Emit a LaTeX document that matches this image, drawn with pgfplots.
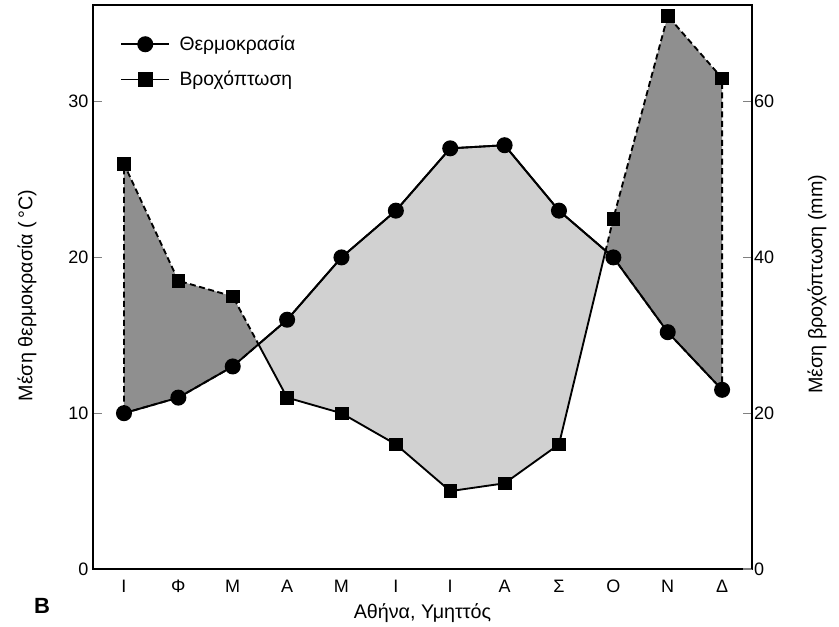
\documentclass[border=0pt]{standalone}
\usepackage{fontspec}
\setmainfont{Liberation Sans}
\usepackage{pgfplots}
\pgfplotsset{compat=1.18}
\usepgfplotslibrary{fillbetween}
\usepackage{pgfplotstable}

\pgfplotstableread{
m T R
0 10 52
1 11 37
2 13 35
3 16 22
4 20 20
5 23 16
6 27 10
7 27.2 11
8 23 16
9 20 45
10 15.2 71
11 11.5 63
}\climate

\begin{document}
\begin{tikzpicture}[font=\fontsize{13.5}{16}\selectfont]
\begin{axis}[
  scale only axis, width=494.25pt, height=423pt,
  at={(0,0)}, anchor=south west,
  xmin=-0.57, xmax=11.55, ymin=0, ymax=36.2,
  xtick={0,...,11}, xticklabels={Ι,Φ,Μ,Α,Μ,Ι,Ι,Α,Σ,Ο,Ν,Δ},
  xtick style={draw=none},
  xticklabel style={yshift=-5pt},
  ytick={0,10,20,30}, ytick pos=left, tick align=inside,
  major tick length=7pt,
  ytick style={line width=1pt},
  axis line style={line width=1.3pt},
  /pgf/number format/assume math mode=true,
  ylabel={Μέση θερμοκρασία (\,°C)},
  ylabel style={at={(axis description cs:-0.1,0.485)}, anchor=center, font=\fontsize{14.8}{17}\selectfont},
  xlabel={Αθήνα, Υμηττός},
  xlabel style={at={(axis description cs:0.5,-0.078)}, anchor=center, font=\fontsize{14.8}{17}\selectfont},
  legend style={draw=none, fill=none, at={(0.035,0.955)}, anchor=north west,
    row sep=10pt, font=\fontsize{14.5}{16}\selectfont,
    /tikz/every odd column/.style={column sep=5pt}},
  legend cell align=left,
  legend image code/.code={\draw[mark repeat=2, mark phase=2, #1] plot coordinates {(0pt,0pt) (18pt,0pt) (36pt,0pt)};},
]
\addlegendimage{black, line width=1.4pt, mark=*, mark size=5.3pt}
\addlegendimage{black, line width=1.4pt, mark=square*, mark size=4.8pt}
\legend{Θερμοκρασία, Βροχόπτωση}

\addplot[name path=T, draw=none, forget plot] table[x=m, y=T]{\climate};
\addplot[name path=R, draw=none, forget plot] table[x=m, y expr=\thisrow{R}/2]{\climate};
\addplot[forget plot] fill between[of=T and R, split,
  every even segment/.style={fill=black!44, draw=black, line width=1.4pt, dash pattern=on 4.5pt off 2.6pt},
  every odd segment/.style={fill=black!18, draw=black, line width=1.4pt, solid}];
\addplot[black, line width=1.4pt, mark=*, mark size=5.3pt, forget plot] table[x=m, y=T]{\climate};
\addplot[black, only marks, mark=square*, mark size=4.8pt, forget plot] table[x=m, y expr=\thisrow{R}/2]{\climate};
\end{axis}
\begin{axis}[
  scale only axis, width=494.25pt, height=423pt,
  at={(0,0)}, anchor=south west,
  xmin=-0.57, xmax=11.55, ymin=0, ymax=72.4,
  axis x line=none, axis y line*=right,
  ytick={0,20,40,60}, tick align=inside, major tick length=7pt,
  ytick style={line width=1pt},
  yticklabel style={xshift=-2pt},
  axis line style={line width=1.3pt},
  /pgf/number format/assume math mode=true,
  ylabel={Μέση βροχόπτωση (mm)},
  ylabel style={at={(axis description cs:1.0986,0.505)}, anchor=center, font=\fontsize{14.8}{17}\selectfont},
]
\addplot[draw=none, forget plot] coordinates {(0,0) (11,72)};
\end{axis}
\node[font=\fontsize{16.5}{18}\selectfont\bfseries] at (-38.25pt,-27.4pt) {B};
\path (-69.75pt,-42.75pt) rectangle (559.5pt,426.75pt);
\end{tikzpicture}
\end{document}
